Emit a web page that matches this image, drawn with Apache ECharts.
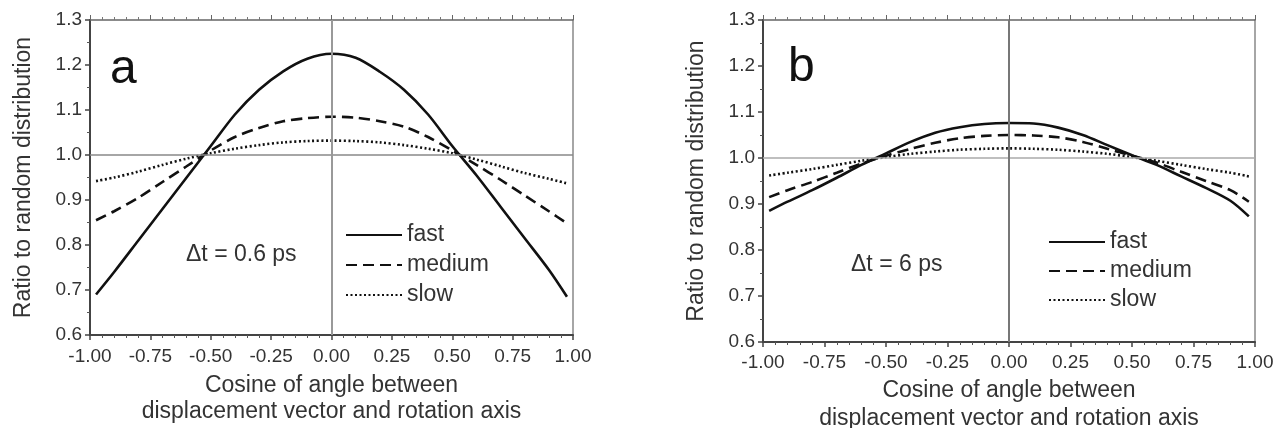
<!DOCTYPE html>
<html>
<head>
    <meta charset="utf-8">
    <title>Ratio to random distribution</title>
    <script src="https://cdn.jsdelivr.net/npm/echarts@6/dist/echarts.min.js"></script>
    <style>
        html, body { margin: 0; padding: 0; background: #fff; }
        #chart { width: 1276px; height: 428px; }
    </style>
</head>
<body>
<div id="chart"></div>
<script type="text/javascript">
    // cosine values (bin centres)
    const cosines = [-0.975, -0.9, -0.8, -0.7, -0.6, -0.5, -0.4, -0.3, -0.2, -0.1, 0,
        0.1, 0.2, 0.3, 0.4, 0.5, 0.6, 0.7, 0.8, 0.9, 0.975];

    // panel a: dt = 0.6 ps
    const fastA = [0.69, 0.74, 0.81, 0.88, 0.95, 1.02, 1.09, 1.145, 1.186, 1.214, 1.225,
        1.216, 1.185, 1.145, 1.09, 1.02, 0.955, 0.885, 0.815, 0.745, 0.685];
    const mediumA = [0.855, 0.875, 0.905, 0.94, 0.975, 1.01, 1.04, 1.06, 1.075, 1.082, 1.085,
        1.083, 1.075, 1.063, 1.04, 1.01, 0.978, 0.945, 0.91, 0.875, 0.848];
    const slowA = [0.942, 0.95, 0.963, 0.978, 0.992, 1.004, 1.014, 1.022, 1.028, 1.031, 1.032,
        1.031, 1.028, 1.022, 1.014, 1.004, 0.99, 0.975, 0.96, 0.947, 0.937];

    // panel b: dt = 6 ps
    const fastB = [0.885, 0.905, 0.93, 0.957, 0.985, 1.01, 1.035, 1.055, 1.067, 1.074, 1.076,
        1.075, 1.066, 1.05, 1.028, 1.006, 0.985, 0.96, 0.935, 0.907, 0.873];
    const mediumB = [0.915, 0.93, 0.948, 0.968, 0.988, 1.005, 1.02, 1.033, 1.043, 1.048, 1.05,
        1.049, 1.045, 1.035, 1.02, 1.005, 0.99, 0.97, 0.95, 0.93, 0.905];
    const slowB = [0.962, 0.968, 0.976, 0.985, 0.994, 1.002, 1.009, 1.014, 1.018, 1.02, 1.021,
        1.02, 1.018, 1.014, 1.009, 1.002, 0.994, 0.985, 0.976, 0.968, 0.96];

    const seriesNames = ['fast', 'medium', 'slow'];
    const xTitle = 'Cosine of angle between\ndisplacement vector and rotation axis';
    const yTitle = 'Ratio to random distribution';

    const font = 'Liberation Sans, Arial, sans-serif';
    const pair = (ys) => cosines.map((x, i) => [x, ys[i]]);
    const dashes = { fast: 'solid', medium: [11, 6], slow: [2, 2.5] };

    function bottomAxis(grid, labelMargin, nameGap, nameLine) {
        return {
            type: 'value', gridIndex: grid, min: -1, max: 1, interval: 0.25,
            axisLine: { onZero: false, lineStyle: { color: '#444', width: 2 } },
            axisTick: { length: 5, lineStyle: { color: '#444', width: 1.5 } },
            minorTick: { show: true, splitNumber: 5, length: 3, lineStyle: { color: '#555' } },
            axisLabel: { fontFamily: font, fontSize: 19, color: '#333', margin: labelMargin,
                formatter: v => v.toFixed(2) },
            splitLine: { show: false },
            name: xTitle, nameLocation: 'middle', nameGap: nameGap,
            nameTextStyle: { fontFamily: font, fontSize: 23, color: '#333', lineHeight: nameLine }
        };
    }
    function topAxis(grid) {
        return {
            type: 'value', gridIndex: grid, position: 'top', min: -1, max: 1, interval: 0.25,
            axisLine: { onZero: false, lineStyle: { color: '#666', width: 1.5 } },
            axisTick: { length: 5, lineStyle: { color: '#666' } },
            minorTick: { show: true, splitNumber: 5, length: 3, lineStyle: { color: '#777' } },
            axisLabel: { show: false }, splitLine: { show: false }
        };
    }
    function leftAxis(grid) {
        return {
            type: 'value', gridIndex: grid, min: 0.6, max: 1.3, interval: 0.1,
            axisLine: { show: true, onZero: false, lineStyle: { color: '#444', width: 2 } },
            axisTick: { show: true, length: 5, lineStyle: { color: '#444', width: 1.5 } },
            minorTick: { show: true, splitNumber: 2, length: 3, lineStyle: { color: '#555' } },
            axisLabel: { fontFamily: font, fontSize: 19, color: '#333', margin: 8,
                formatter: v => v.toFixed(1) },
            splitLine: { show: false },
            name: yTitle, nameLocation: 'middle', nameGap: 55,
            nameTextStyle: { fontFamily: font, fontSize: 23, color: '#333' }
        };
    }
    function rightAxis(grid) {
        return {
            type: 'value', gridIndex: grid, position: 'right', min: 0.6, max: 1.3,
            axisLine: { show: true, onZero: false, lineStyle: { color: '#888', width: 1.5 } },
            axisTick: { show: false }, axisLabel: { show: false }, splitLine: { show: false }
        };
    }

    function makeSeries(name, ys, xi, yi, withRefs, refColors) {
        const s = {
            name: name, type: 'line', xAxisIndex: xi, yAxisIndex: yi,
            data: pair(ys), smooth: 0.3, symbol: 'none', z: 3,
            lineStyle: { color: '#111', width: 2.6, type: dashes[name] },
            itemStyle: { color: '#111' }
        };
        if (withRefs) {
            s.markLine = {
                silent: true, symbol: 'none', label: { show: false },
                data: [
                    { yAxis: 1, lineStyle: { color: refColors[0], width: 1.5, type: 'solid' } },
                    { xAxis: 0, lineStyle: { color: refColors[1], width: 2, type: 'solid' } }
                ]
            };
        }
        return s;
    }

    const legendBase = {
        data: seriesNames, orient: 'vertical',
        itemWidth: 56, itemHeight: 12, itemGap: 6,
        itemStyle: { opacity: 0 },
        textStyle: { fontFamily: font, fontSize: 23, color: '#333', lineHeight: 24 }
    };

    const chart = echarts.init(document.getElementById('chart'));

    const option = {
        animation: false,
        grid: [
            { left: 90, top: 20, width: 483, height: 315, outerBoundsMode: 'none' },
            { left: 763, top: 20, width: 492, height: 322, outerBoundsMode: 'none' }
        ],
        xAxis: [bottomAxis(0, 12, 38, 26), topAxis(0), bottomAxis(1, 11, 35, 28), topAxis(1)],
        yAxis: [leftAxis(0), rightAxis(0), leftAxis(1), rightAxis(1)],
        legend: [
            Object.assign({}, legendBase, { left: 340, top: 218 }),
            Object.assign({}, legendBase, { left: 1043, top: 225, itemGap: 5 })
        ],
        series: [
            makeSeries('fast', fastA, 0, 0, true, ['#888', '#999']),
            makeSeries('medium', mediumA, 0, 0),
            makeSeries('slow', slowA, 0, 0),
            makeSeries('fast', fastB, 2, 2, true, ['#aaa', '#777']),
            makeSeries('medium', mediumB, 2, 2),
            makeSeries('slow', slowB, 2, 2)
        ],
        graphic: [
            { type: 'text', left: 110, top: 46,
                style: { text: 'a', fontFamily: font, fontSize: 48, fill: '#111' } },
            { type: 'text', left: 788, top: 44,
                style: { text: 'b', fontFamily: font, fontSize: 48, fill: '#111' } },
            { type: 'text', left: 186, top: 243,
                style: { text: '\u0394t = 0.6 ps', fontFamily: font, fontSize: 23, fill: '#333' } },
            { type: 'text', left: 851, top: 253,
                style: { text: '\u0394t = 6 ps', fontFamily: font, fontSize: 23, fill: '#333' } }
        ]
    };

    chart.setOption(option);
</script>
</body>
</html>
